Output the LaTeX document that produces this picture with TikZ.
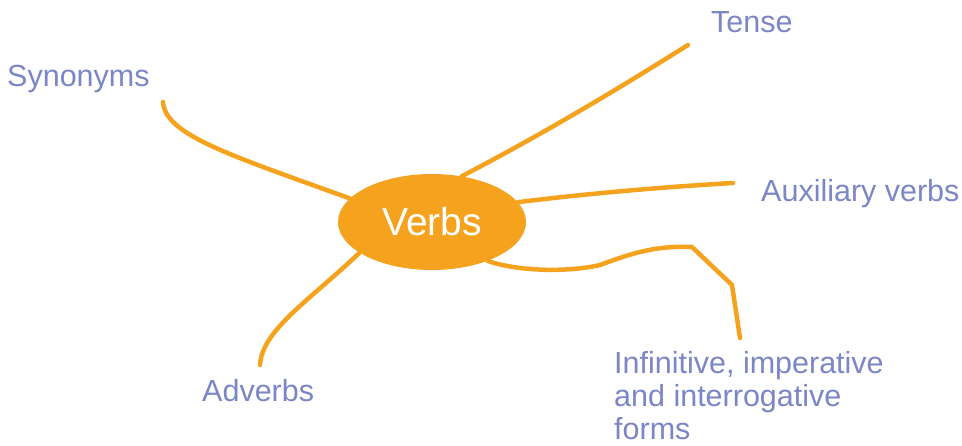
\documentclass[tikz,border=0pt]{standalone}
\usepackage{fontspec}
\setmainfont{Liberation Sans}
\usetikzlibrary{shapes.geometric}
\definecolor{verbor}{HTML}{F5A31F}
\definecolor{lblue}{HTML}{7B86C6}
\tikzset{
  branch/.style={draw=verbor, line width=4.5pt, line cap=round, line join=round},
  lbl/.style={text=lblue, font=\fontsize{30.5}{32}\selectfont, inner sep=0pt, anchor=base west},
  hub/.style={ellipse, fill=verbor, minimum width=188pt, minimum height=96pt, inner sep=0pt,
              text=white, font=\fontsize{39}{41}\selectfont}
}
\begin{document}
\begin{tikzpicture}[x=1pt,y=-1pt]
\useasboundingbox (0,0) rectangle (962,445);
\node[hub] (v) at (432,222) {Verbs};
\node[lbl] (tense) at (711,32) {Tense};
\node[lbl] (syn) at (7,86) {Synonyms};
\node[lbl] (aux) at (761,201) {Auxiliary verbs};
\node[lbl] (adv) at (202,401) {Adverbs};
\node[lbl, align=left, anchor=north west, font=\fontsize{30.5}{33}\selectfont] (inf) at (614,351) {Infinitive, imperative\\and interrogative\\forms};
\coordinate (tE) at (688,45);
\coordinate (sE) at (163,102);
\coordinate (aE) at (733,183);
\coordinate (dE) at (260,365);
\coordinate (i1) at (600,265);
\coordinate (i2) at (692,247);
\coordinate (i3) at (732,285);
\coordinate (iE) at (740,338);
\draw[branch] (v.57) .. controls (560,125) and (640,75) .. (tE);
\draw[branch] (v.164) .. controls (230,155) and (165,135) .. (sE);
\draw[branch] (v.13) .. controls (600,192) and (680,186) .. (aE);
\draw[branch] (v.203) .. controls (310,300) and (262,330) .. (dE);
\draw[branch] (v.325) .. controls (520,272) and (570,272) .. (i1)
   .. controls (640,250) and (660,246) .. (i2) -- (i3) -- (iE);
\end{tikzpicture}
\end{document}
